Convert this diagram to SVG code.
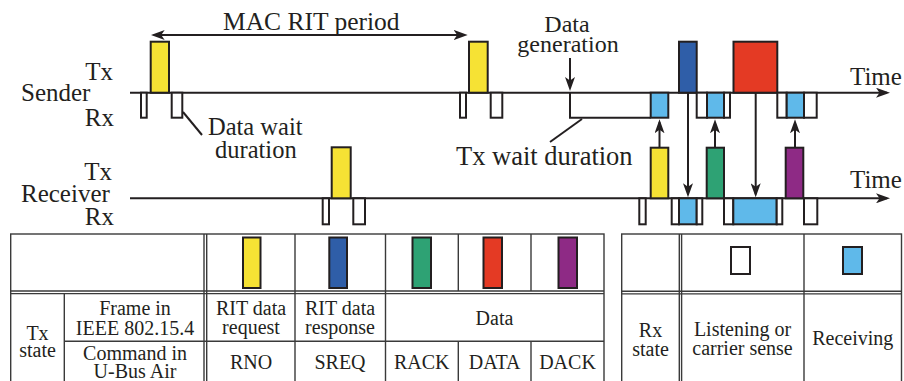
<svg xmlns="http://www.w3.org/2000/svg" width="904" height="381" viewBox="0 0 904 381">
<style>
text{font-family:"Liberation Serif","Times New Roman",serif;fill:#231f20}
.lbl{font-size:25px}
.tt{font-size:20px;text-anchor:middle}
.ln{stroke:#231f20;stroke-width:2;fill:none}
.tl{stroke:#3a3a3a;stroke-width:1.4;fill:none}
.fr{stroke:#231f20;stroke-width:2}
.w{fill:#fff}
.c{fill:#5fb9ea}
.y{fill:#f6e234}
.b{fill:#2f5ea8}
.g{fill:#2ea274}
.r{fill:#e43a24}
.p{fill:#8e2a85}
</style>
<defs>
<marker id="ah" viewBox="0 0 14 10" refX="11" refY="5" markerWidth="14" markerHeight="10" markerUnits="userSpaceOnUse" orient="auto">
<path d="M0,0 L14,5 L0,10 L3.5,5 z" fill="#231f20"/>
</marker>
</defs>

<g id="connectors">
<line class="ln" x1="130" y1="92.7" x2="887" y2="92.7" marker-end="url(#ah)"/>
<line class="ln" x1="130" y1="198.3" x2="887" y2="198.3" marker-end="url(#ah)"/>
<line class="ln" x1="155" y1="35" x2="464.7" y2="35" marker-end="url(#ah)"/>
<line class="ln" x1="464" y1="35" x2="153.7" y2="35" marker-end="url(#ah)"/>
<line class="ln" x1="570" y1="58" x2="570" y2="88" marker-end="url(#ah)"/>
<polyline class="ln" points="570,92.7 570,117.7 650.7,117.7"/>
<line class="ln" x1="183" y1="112" x2="202" y2="135"/>
<line class="ln" x1="582" y1="119" x2="550" y2="142"/>
<line class="ln" x1="659.5" y1="147.7" x2="659.5" y2="122.3" marker-end="url(#ah)"/>
<line class="ln" x1="715" y1="147.7" x2="715" y2="122.3" marker-end="url(#ah)"/>
<line class="ln" x1="795" y1="147.7" x2="795" y2="122.3" marker-end="url(#ah)"/>
<line class="ln" x1="688" y1="92.7" x2="688" y2="194.3" marker-end="url(#ah)"/>
<line class="ln" x1="755.7" y1="92.7" x2="755.7" y2="194.3" marker-end="url(#ah)"/>
</g>

<g id="labels">
<text class="lbl" x="113" y="80" text-anchor="end">Tx</text>
<text class="lbl" x="21" y="101">Sender</text>
<text class="lbl" x="114" y="125.7" text-anchor="end">Rx</text>
<text class="lbl" x="112" y="180" text-anchor="end">Tx</text>
<text class="lbl" x="21" y="201.5">Receiver</text>
<text class="lbl" x="114" y="225" text-anchor="end">Rx</text>
<text class="lbl" x="223" y="30" style="font-size:25.5px">MAC RIT period</text>
<text class="lbl" x="208" y="135" style="font-size:24.5px">Data wait</text>
<text class="lbl" x="215" y="158" style="font-size:24.5px">duration</text>
<text class="lbl" x="567" y="31.7" text-anchor="middle" style="font-size:24px">Data</text>
<text class="lbl" x="568" y="51.7" text-anchor="middle" style="font-size:24px">generation</text>
<text class="lbl" x="456" y="165" style="font-size:26.5px">Tx wait duration</text>
<text class="lbl" x="850" y="85">Time</text>
<text class="lbl" x="850" y="188.3">Time</text>
</g>

<g id="sender-frames">
<rect class="fr y" x="150.7" y="41.7" width="18.3" height="51"/>
<rect class="fr w" x="141" y="92.7" width="5.7" height="25"/>
<rect class="fr w" x="171.7" y="92.7" width="10.6" height="25"/>
<rect class="fr y" x="469" y="41.7" width="18.7" height="51"/>
<rect class="fr w" x="460" y="92.7" width="6" height="25"/>
<rect class="fr w" x="490.7" y="92.7" width="11.6" height="25"/>
<rect class="fr c" x="650.7" y="92.7" width="17.6" height="25"/>
<rect class="fr b" x="679" y="41.7" width="17.7" height="51"/>
<rect class="fr w" x="696.7" y="92.7" width="10.3" height="25"/>
<rect class="fr c" x="707" y="92.7" width="17" height="25"/>
<rect class="fr w" x="724" y="92.7" width="6" height="25"/>
<rect class="fr r" x="733.5" y="41.7" width="43.8" height="51"/>
<rect class="fr w" x="777.3" y="92.7" width="9.4" height="25"/>
<rect class="fr c" x="786.7" y="92.7" width="17.3" height="25"/>
<rect class="fr w" x="804" y="92.7" width="12.7" height="25"/>
</g>

<g id="receiver-frames">
<rect class="fr y" x="331.7" y="147.3" width="19" height="51"/>
<rect class="fr w" x="322.7" y="198.3" width="6.3" height="26"/>
<rect class="fr w" x="353.3" y="198.3" width="11.7" height="26"/>
<rect class="fr w" x="639.3" y="198.3" width="6.4" height="26"/>
<rect class="fr y" x="650.7" y="147.7" width="17.6" height="50.6"/>
<rect class="fr w" x="671.7" y="198.3" width="7.3" height="26"/>
<rect class="fr c" x="679" y="198.3" width="17.7" height="26"/>
<rect class="fr w" x="696.7" y="198.3" width="5.6" height="26"/>
<rect class="fr g" x="706.7" y="147.7" width="17.3" height="50.6"/>
<rect class="fr w" x="724" y="198.3" width="9.3" height="26"/>
<rect class="fr c" x="733.3" y="198.3" width="43.4" height="26"/>
<rect class="fr w" x="776.7" y="198.3" width="5.6" height="26"/>
<rect class="fr p" x="785.7" y="147.7" width="17.6" height="50.6"/>
<rect class="fr w" x="804" y="198.3" width="13.3" height="26"/>
</g>

<g id="tx-table">
<rect class="tl" x="10.7" y="234" width="593.3" height="160"/>
<line class="tl" x1="10.7" y1="291" x2="604" y2="291"/>
<line class="tl" x1="10.7" y1="293.6" x2="604" y2="293.6"/>
<line class="tl" x1="204" y1="234" x2="204" y2="394"/>
<line class="tl" x1="206.7" y1="234" x2="206.7" y2="394"/>
<line class="tl" x1="64.3" y1="293.6" x2="64.3" y2="394"/>
<line class="tl" x1="295" y1="234" x2="295" y2="394"/>
<line class="tl" x1="385.5" y1="234" x2="385.5" y2="394"/>
<line class="tl" x1="458.3" y1="234" x2="458.3" y2="291"/>
<line class="tl" x1="531" y1="234" x2="531" y2="291"/>
<line class="tl" x1="458.3" y1="341.3" x2="458.3" y2="394"/>
<line class="tl" x1="531" y1="341.3" x2="531" y2="394"/>
<line class="tl" x1="64.3" y1="341.3" x2="604" y2="341.3"/>
<rect class="fr y" x="243" y="237.5" width="17.5" height="50.5"/>
<rect class="fr b" x="329.3" y="237.5" width="17.7" height="50.5"/>
<rect class="fr g" x="412.5" y="237.5" width="18.5" height="50.5"/>
<rect class="fr r" x="483.5" y="237.5" width="18.5" height="50.5"/>
<rect class="fr p" x="558.5" y="237.5" width="18.5" height="50.5"/>
<text class="tt" x="37.5" y="339.7">Tx</text>
<text class="tt" x="37.5" y="357.3">state</text>
<text class="tt" x="135" y="315.3">Frame in</text>
<text class="tt" x="135" y="334.7">IEEE 802.15.4</text>
<text class="tt" x="135" y="359.7">Command in</text>
<text class="tt" x="135" y="378">U-Bus Air</text>
<text class="tt" x="251" y="315.3">RIT data</text>
<text class="tt" x="251" y="334">request</text>
<text class="tt" x="340" y="315.3">RIT data</text>
<text class="tt" x="340" y="334">response</text>
<text class="tt" x="494.5" y="325.3">Data</text>
<text class="tt" x="251" y="368.5">RNO</text>
<text class="tt" x="340" y="368.5">SREQ</text>
<text class="tt" x="421.8" y="368.5">RACK</text>
<text class="tt" x="494.6" y="368.5">DATA</text>
<text class="tt" x="567.5" y="368.5">DACK</text>
</g>

<g id="rx-table">
<rect class="tl" x="621.7" y="234" width="279.8" height="160"/>
<line class="tl" x1="621.7" y1="291.3" x2="901.5" y2="291.3"/>
<line class="tl" x1="621.7" y1="293.9" x2="901.5" y2="293.9"/>
<line class="tl" x1="679.3" y1="234" x2="679.3" y2="394"/>
<line class="tl" x1="681.6" y1="234" x2="681.6" y2="394"/>
<line class="tl" x1="804" y1="234" x2="804" y2="394"/>
<rect class="fr w" x="731" y="247" width="19" height="27"/>
<rect class="fr c" x="843" y="247" width="19" height="27"/>
<text class="tt" x="650.5" y="337.3">Rx</text>
<text class="tt" x="650.5" y="356.3">state</text>
<text class="tt" x="742.5" y="335.5">Listening or</text>
<text class="tt" x="742.5" y="354.7">carrier sense</text>
<text class="tt" x="852.8" y="345.3">Receiving</text>
</g>
</svg>
